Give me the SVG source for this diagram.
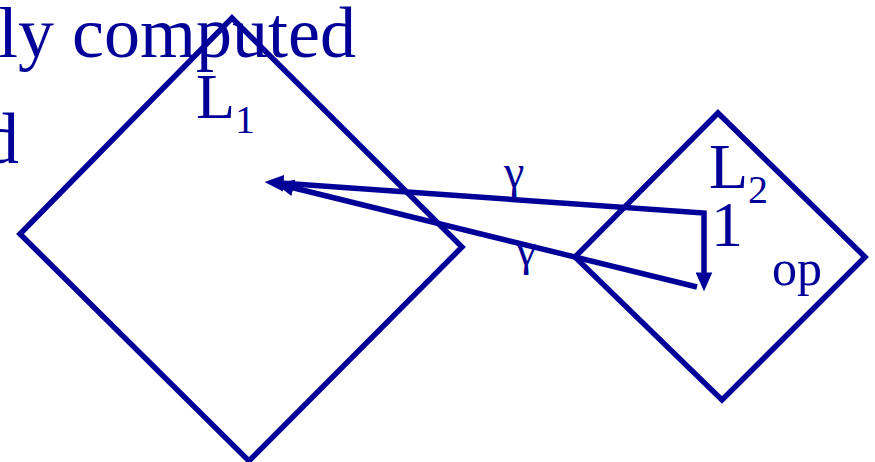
<svg xmlns="http://www.w3.org/2000/svg" width="875" height="462" viewBox="0 0 875 462">
<style>
.t{font-family:"Liberation Serif","Times New Roman",serif;fill:#000099}
.shape{fill:none;stroke:#000099;stroke-width:5.5;stroke-linejoin:miter;stroke-miterlimit:10}
.conn{fill:none;stroke:#000099;stroke-width:5.5;stroke-linejoin:miter}
</style>
<defs>
<marker id="ah" markerUnits="userSpaceOnUse" markerWidth="19" markerHeight="17" viewBox="0 0 16 14" refX="3" refY="7" orient="auto-start-reverse">
<path d="M0,0 L16,7 L0,14 z" fill="#000099"/>
</marker>
</defs>
<rect width="875" height="462" fill="#ffffff"/>
<text class="t" x="-2" y="57" font-size="72">ly computed</text>
<text class="t" x="-17" y="163" font-size="72">d</text>
<g id="L1">
<polygon class="shape" points="232,18 462,247 249,461 20,234"/>
<text class="t" x="196" y="118" font-size="64">L<tspan font-size="40" dy="15">1</tspan></text>
</g>
<g id="L2">
<polygon class="shape" points="718,113 865,257 722,400 575,257"/>
<text class="t" x="709" y="188" font-size="64">L<tspan font-size="40" dy="15">2</tspan></text>
<text class="t" x="711" y="246" font-size="64">1</text>
<text class="t" x="772" y="285" font-size="50">op</text>
</g>
<g id="connectors">
<polyline class="conn" points="280,183 704,213 704,276" marker-start="url(#ah)" marker-end="url(#ah)"/>
<polyline class="conn" points="290,187 697,287" marker-start="url(#ah)"/>
<text class="t" x="504" y="187" font-size="46">γ</text>
<text class="t" x="516" y="265" font-size="46">γ</text>
</g>
</svg>
